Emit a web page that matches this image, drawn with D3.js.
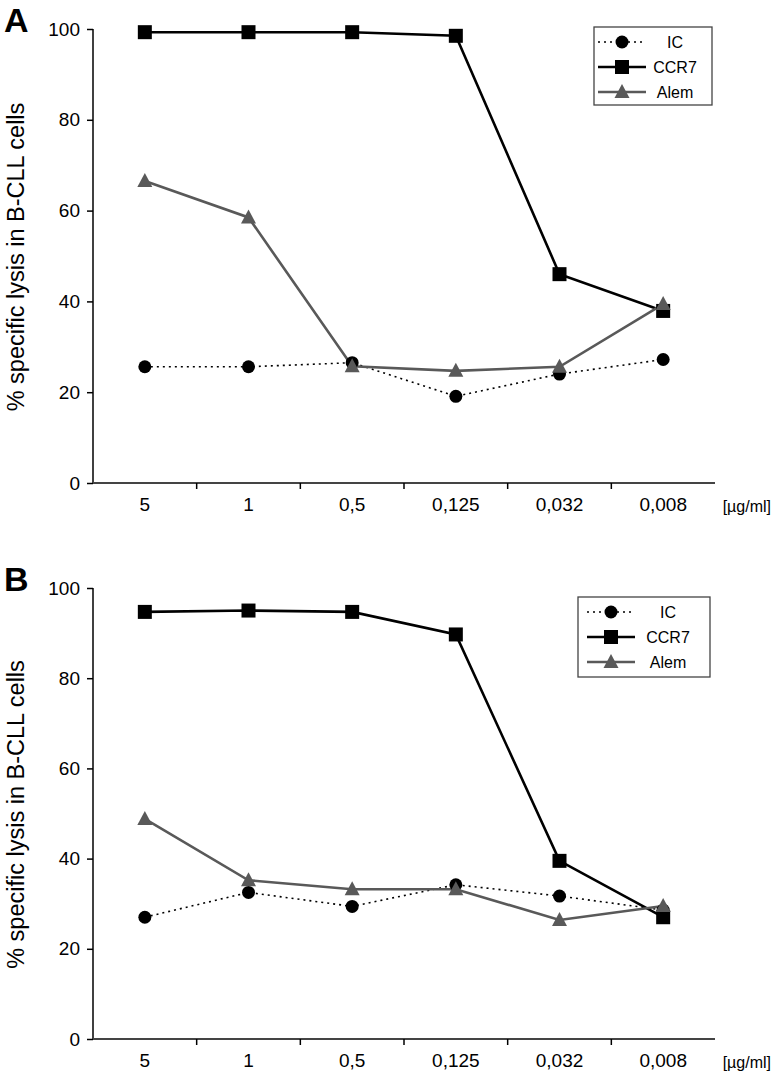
<!DOCTYPE html>
<html>
<head>
<meta charset="utf-8">
<script src="https://cdn.jsdelivr.net/npm/d3@7"></script>
<style>
  body { margin: 0; background: #fff; }
  svg text { font-family: "Liberation Sans", Arial, sans-serif; fill: #000; }
</style>
</head>
<body>
<svg id="chart" width="774" height="1085"></svg>
<script>
var doses = ['5', '1', '0,5', '0,125', '0,032', '0,008'];
var yTicks = [0, 20, 40, 60, 80, 100];
var seriesNames = ['IC', 'CCR7', 'Alem'];

// panel A values
var icA   = [25.6, 25.6, 26.5, 19.1, 24.0, 27.2];
var ccr7A = [99.3, 99.3, 99.3, 98.5, 46.0, 37.9];
var alemA = [66.5, 58.5, 25.7, 24.7, 25.6, 39.4];

// panel B values
var icB   = [27.0, 32.5, 29.4, 34.2, 31.7, 28.6];
var ccr7B = [94.7, 95.0, 94.7, 89.7, 39.5, 27.0];
var alemB = [48.8, 35.2, 33.2, 33.2, 26.4, 29.5];

var svg = d3.select('#chart');
var left = 93, right = 715;

var styles = {
  'IC':   { color: '#000', width: 1.6, dash: '2,4', shape: 'circle' },
  'CCR7': { color: '#000', width: 2.6, dash: null,  shape: 'square' },
  'Alem': { color: '#595959', width: 2.6, dash: null, shape: 'triangle' }
};

function drawMarker(g, shape, x, y, color) {
  if (shape == 'circle') {
    g.append('circle').attr('cx', x).attr('cy', y).attr('r', 6.5).style('fill', color);
  } else if (shape == 'square') {
    g.append('rect').attr('x', x - 7).attr('y', y - 7)
      .attr('width', 14).attr('height', 14).style('fill', color);
  } else {
    g.append('path')
      .attr('d', 'M' + x + ',' + (y - 8) + 'L' + (x + 7.5) + ',' + (y + 6) + 'L' + (x - 7.5) + ',' + (y + 6) + 'Z')
      .style('fill', color);
  }
}

function drawPanel(cfg) {
  var g = svg.append('g');
  var x = d3.scaleBand().domain(doses).range([left, right]).padding(0);
  var y = d3.scaleLinear().domain([0, 100]).range([cfg.bottom, cfg.top]);

  // y axis
  var yAxis = g.append('g')
    .attr('transform', 'translate(' + left + ',0)')
    .call(d3.axisLeft(y).tickValues(yTicks).tickSize(6).tickPadding(7));
  yAxis.selectAll('line, path').style('stroke', '#000').style('stroke-width', 1.5);
  yAxis.select('.domain').attr('d', 'M0,' + cfg.top + 'V' + cfg.bottom);
  yAxis.selectAll('text').style('font-size', '19px').attr('font-family', null);

  // x axis: labels centred, ticks at category boundaries
  var xAxis = g.append('g')
    .attr('transform', 'translate(0,' + cfg.bottom + ')')
    .call(d3.axisBottom(x).tickSize(0).tickPadding(15));
  xAxis.select('.domain').attr('d', 'M' + left + ',0H' + right)
    .style('stroke', '#444').style('stroke-width', 2);
  xAxis.selectAll('text').style('font-size', '19px').attr('font-family', null);
  xAxis.selectAll('.bound')
    .data(doses.slice(1))
    .enter().append('line')
    .attr('x1', function(d) { return x(d); })
    .attr('x2', function(d) { return x(d); })
    .attr('y1', 0).attr('y2', 6)
    .style('stroke', '#000').style('stroke-width', 1.5);

  g.append('text')
    .attr('x', 771).attr('y', cfg.bottom + 29)
    .attr('text-anchor', 'end')
    .style('font-size', '16px')
    .text('[\u00b5g/ml]');

  // y title
  g.append('text')
    .attr('transform', 'translate(24,' + ((cfg.top + cfg.bottom) / 2 + 1) + ')rotate(-90)')
    .attr('text-anchor', 'middle')
    .style('font-size', '23.5px')
    .text('% specific lysis in B-CLL cells');

  // panel letter
  g.append('text')
    .attr('x', 4).attr('y', cfg.top + 3)
    .style('font-size', '34px').style('font-weight', 'bold')
    .text(cfg.letter);

  var line = d3.line()
    .x(function(d, i) { return x(doses[i]) + x.bandwidth() / 2; })
    .y(function(d) { return y(d); });

  cfg.series.forEach(function(vals, k) {
    var s = styles[seriesNames[k]];
    g.append('path')
      .datum(vals)
      .attr('d', line)
      .style('fill', 'none')
      .style('stroke', s.color)
      .style('stroke-width', s.width)
      .style('stroke-dasharray', s.dash);
  });
  cfg.series.forEach(function(vals, k) {
    var s = styles[seriesNames[k]];
    vals.forEach(function(v, i) {
      drawMarker(g, s.shape, x(doses[i]) + x.bandwidth() / 2, y(v), s.color);
    });
  });

  // legend
  var lg = cfg.legend;
  g.append('rect')
    .attr('x', lg.x).attr('y', lg.y)
    .attr('width', lg.w).attr('height', lg.h)
    .style('fill', '#fff').style('stroke', '#444').style('stroke-width', 1.3);
  seriesNames.forEach(function(name, k) {
    var s = styles[name];
    var ly = lg.y + 15 + k * 25;
    g.append('line')
      .attr('x1', lg.mx - 24).attr('x2', lg.mx + 24)
      .attr('y1', ly).attr('y2', ly)
      .style('stroke', s.color).style('stroke-width', s.width)
      .style('stroke-dasharray', s.dash);
    drawMarker(g, s.shape, lg.mx, ly, s.color);
    g.append('text')
      .attr('x', lg.tx).attr('y', ly + 6)
      .attr('text-anchor', 'middle')
      .style('font-size', '16px')
      .text(name);
  });
}

drawPanel({
  letter: 'A', top: 29, bottom: 483,
  series: [icA, ccr7A, alemA],
  legend: { x: 594, y: 27, w: 118, h: 78, mx: 622, tx: 675 }
});

drawPanel({
  letter: 'B', top: 588, bottom: 1039,
  series: [icB, ccr7B, alemB],
  legend: { x: 578, y: 597, w: 132, h: 80, mx: 611, tx: 668 }
});
</script>
</body>
</html>
